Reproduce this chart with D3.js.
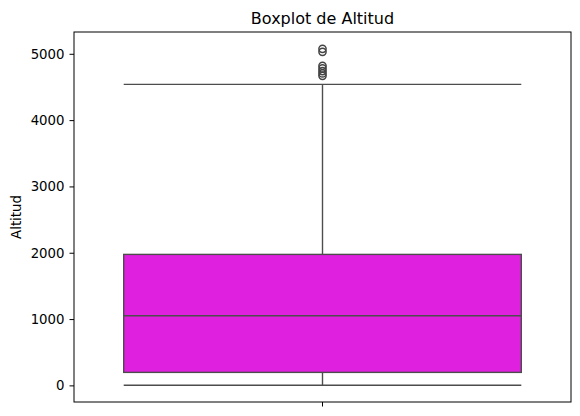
<!DOCTYPE html>
<html>
<head>
<meta charset="utf-8">
<script src="https://cdn.jsdelivr.net/npm/d3@7"></script>
<style>
  html, body { margin: 0; padding: 0; background: #fff; }
  svg { display: block; font-family: "DejaVu Sans", sans-serif; }
</style>
</head>
<body>
<svg id="chart" width="580" height="416"></svg>
<script>
// ---- data ----
const category = ["Altitud"];
const lowerWhisker = [3];
const q1 = [196];
const median = [1049];
const q3 = [1975];
const upperWhisker = [4539];
const outliers = [5075, 5030, 4819, 4780, 4739, 4704, 4668];
const yTicks = [0, 1000, 2000, 3000, 4000, 5000];
const title = "Boxplot de Altitud";
const yLabel = "Altitud";

// ---- layout ----
const W = 580, H = 416;
const margin = { top: 32, right: 9, bottom: 14, left: 74 };
const iw = W - margin.left - margin.right;
const ih = H - margin.top - margin.bottom;

const svg = d3.select("#chart");
const g = svg.append("g").attr("transform", `translate(${margin.left},${margin.top})`);

const dataMin = d3.min([lowerWhisker[0], ...outliers]);
const dataMax = d3.max([upperWhisker[0], ...outliers]);
const pad = (dataMax - dataMin) * 0.05;

const y = d3.scaleLinear().domain([dataMin - pad, dataMax + pad]).range([ih, 0]);
const x = d3.scaleBand().domain(category).range([0, iw]).paddingInner(0).paddingOuter(0);

const fill = "#df20df";
const lineColor = "#4d4d4d";
const lw = 1.4;

category.forEach((c, i) => {
  const cx = x(c) + x.bandwidth() / 2;
  const bw = x.bandwidth() * 0.8;
  const x0 = cx - bw / 2, x1 = cx + bw / 2;

  // whiskers
  g.append("line").attr("x1", cx).attr("x2", cx)
    .attr("y1", y(q3[i])).attr("y2", y(upperWhisker[i]))
    .attr("stroke", lineColor).attr("stroke-width", lw);
  g.append("line").attr("x1", cx).attr("x2", cx)
    .attr("y1", y(q1[i])).attr("y2", y(lowerWhisker[i]))
    .attr("stroke", lineColor).attr("stroke-width", lw);
  // caps
  [upperWhisker[i], lowerWhisker[i]].forEach(v => {
    g.append("line").attr("x1", x0).attr("x2", x1)
      .attr("y1", y(v)).attr("y2", y(v))
      .attr("stroke", lineColor).attr("stroke-width", lw);
  });
  // box
  g.append("rect").attr("x", x0).attr("y", y(q3[i]))
    .attr("width", bw).attr("height", y(q1[i]) - y(q3[i]))
    .attr("fill", fill).attr("stroke", lineColor).attr("stroke-width", lw);
  // median
  g.append("line").attr("x1", x0).attr("x2", x1)
    .attr("y1", y(median[i])).attr("y2", y(median[i]))
    .attr("stroke", lineColor).attr("stroke-width", lw);
  // outliers
  g.selectAll(null).data(outliers).enter().append("circle")
    .attr("cx", cx).attr("cy", d => y(d)).attr("r", 3.6)
    .attr("fill", "none").attr("stroke", "#444").attr("stroke-width", 1.5);
});

// axes
const yAxis = g.append("g").call(d3.axisLeft(y).tickValues(yTicks).tickFormat(d3.format("d")).tickSize(4.5).tickPadding(5));
const xAxis = g.append("g").attr("transform", `translate(0,${ih})`)
  .call(d3.axisBottom(x).tickSize(4.5).tickFormat(""));
[yAxis, xAxis].forEach(a => {
  a.select(".domain").remove();
  a.selectAll("line").attr("stroke", "#000").attr("stroke-width", 1);
  a.selectAll("text").attr("fill", "#000").style("font-size", "13.3px").style("font-family", "DejaVu Sans");
});

// spines
g.append("rect").attr("x", 0).attr("y", 0).attr("width", iw).attr("height", ih)
  .attr("fill", "none").attr("stroke", "#000").attr("stroke-width", 1);

// title
svg.append("text").attr("x", margin.left + iw / 2).attr("y", 23.5)
  .attr("text-anchor", "middle").style("font-size", "16px").attr("fill", "#000")
  .text(title);

// y label
svg.append("text")
  .attr("transform", `translate(21,${margin.top + ih / 2}) rotate(-90)`)
  .attr("text-anchor", "middle").style("font-size", "13.3px").attr("fill", "#000")
  .text(yLabel);
</script>
</body>
</html>
